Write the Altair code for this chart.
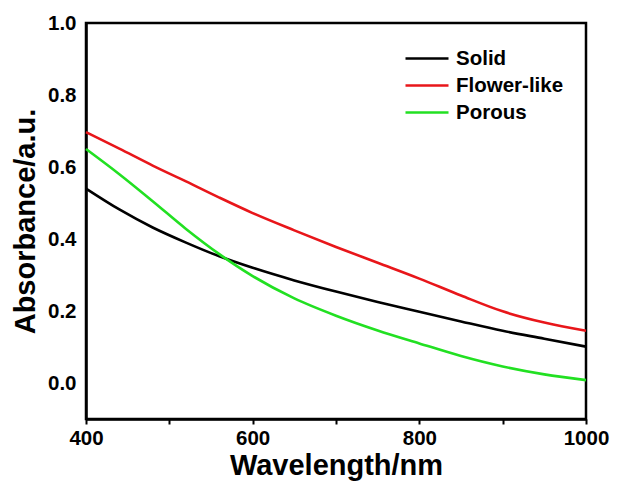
import altair as alt
import pandas as pd

wavelength = [400, 440, 480, 520, 560, 600, 650, 700, 750, 800, 850, 900, 950, 1000]
solid = [0.540, 0.482, 0.432, 0.390, 0.352, 0.320, 0.285, 0.254, 0.225, 0.198, 0.171, 0.145, 0.123, 0.101]
flower = [0.697, 0.651, 0.604, 0.560, 0.515, 0.472, 0.424, 0.378, 0.334, 0.290, 0.243, 0.199, 0.168, 0.145]
porous = [0.650, 0.580, 0.505, 0.428, 0.358, 0.297, 0.235, 0.187, 0.146, 0.110, 0.075, 0.046, 0.024, 0.008]

series_names = ["Solid", "Flower-like", "Porous"]
series_colors = ["#000000", "#e8161a", "#22e022"]
x_ticks = [400, 500, 600, 700, 800, 900, 1000]
y_ticks = [0.0, 0.2, 0.4, 0.6, 0.8, 1.0]

rows = []
for name, vals in zip(series_names, [solid, flower, porous]):
    for w, v in zip(wavelength, vals):
        rows.append({"Wavelength": w, "Absorbance": v, "Sample": name})
df = pd.DataFrame(rows)

FONT = "Liberation Sans"

chart = alt.Chart(df).mark_line(strokeWidth=2.6, interpolate="monotone").encode(
    x=alt.X("Wavelength:Q",
            scale=alt.Scale(domain=[400, 1000], nice=False, zero=False),
            axis=alt.Axis(title="Wavelength/nm", values=x_ticks, format="d",
                          labelExpr="datum.value % 200 == 0 ? datum.label : ''",
                          labelFlush=False,
                          tickSize=5, tickWidth=2, labelPadding=4, titlePadding=3)),
    y=alt.Y("Absorbance:Q",
            scale=alt.Scale(domain=[-0.1, 1.0], nice=False, zero=False),
            axis=alt.Axis(title="Absorbance/a.u.", values=y_ticks, format=".1f",
                          ticks=False, labelPadding=10, titlePadding=7)),
    color=alt.Color("Sample:N",
                    scale=alt.Scale(domain=series_names, range=series_colors),
                    sort=series_names,
                    legend=alt.Legend(title=None, orient="none", legendX=318, legendY=22,
                                      symbolType="stroke", symbolSize=1849,
                                      symbolStrokeWidth=2.6, labelFontSize=20.5,
                                      labelFont=FONT, labelFontWeight="bold",
                                      labelColor="black", clipHeight=27, rowPadding=0,
                                      labelOffset=6, padding=0)),
).properties(
    width=500, height=396,
    autosize=alt.AutoSizeParams(type="none"),
    padding={"left": 78, "top": 15, "right": 24, "bottom": 63},
).configure_axis(
    grid=False, domainColor="black", domainWidth=2.5, tickColor="black",
    labelFont=FONT, labelFontWeight="bold", labelFontSize=20.5, labelColor="black",
    titleFont=FONT, titleFontWeight="bold", titleFontSize=29, titleColor="black",
).configure_view(stroke="black", strokeWidth=2.5)

chart.save("out.html", embed_options={"renderer": "svg", "actions": False})
